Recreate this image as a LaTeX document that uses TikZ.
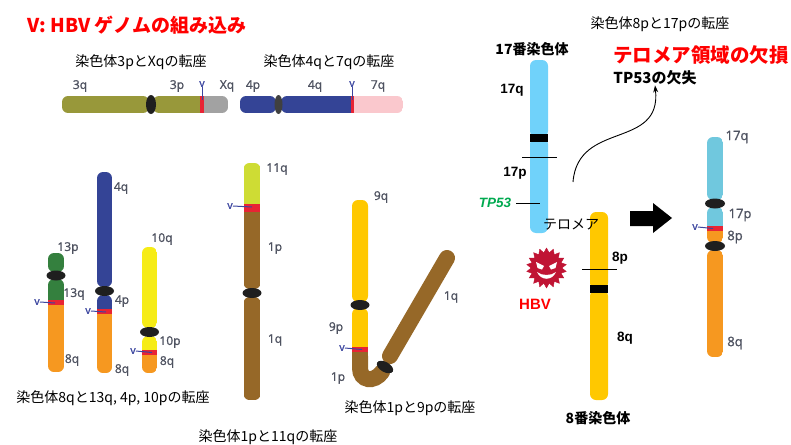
\documentclass[tikz,border=0pt]{standalone}
\usepackage{fontspec}
\setmainfont{Noto Sans CJK JP}
\newfontfamily\arial{Liberation Sans}
\newfontfamily\seg{Open Sans}[FakeBold=1.2]
\usetikzlibrary{shapes.geometric,arrows.meta}
\definecolor{olivearm}{RGB}{152,152,58}
\definecolor{xgray}{RGB}{162,162,162}
\definecolor{navyarm}{RGB}{52,68,150}
\definecolor{pinkarm}{RGB}{250,200,205}
\definecolor{greenarm}{RGB}{52,128,62}
\definecolor{orangearm}{RGB}{246,152,32}
\definecolor{lemonarm}{RGB}{246,236,22}
\definecolor{limearm}{RGB}{206,220,52}
\definecolor{brownarm}{RGB}{150,104,40}
\definecolor{goldarm}{RGB}{255,200,0}
\definecolor{skyarm}{RGB}{112,210,250}
\definecolor{tealarm}{RGB}{112,200,222}
\definecolor{bandred}{RGB}{232,36,52}
\definecolor{virus}{RGB}{192,20,52}
\definecolor{labgray}{RGB}{78,82,96}
\definecolor{vblue}{RGB}{60,70,160}
\definecolor{tpgreen}{RGB}{0,170,80}
\begin{document}
\begin{tikzpicture}[x=1pt, y=-1pt,
  arm/.style={rounded corners=6},
  cen/.style={ellipse, fill=black!88, inner sep=0, minimum width=19, minimum height=10},
  hcen/.style={cen, minimum width=10, minimum height=19},
  lab/.style={inner sep=0, text=labgray, font=\seg\fontsize{12}{12}\selectfont},
  vlab/.style={inner sep=0, text=vblue, font=\seg\fontsize{10.5}{10}\selectfont},
  vline/.style={draw=vblue, line width=1},
  boldlab/.style={inner sep=0, font=\arial\bfseries\fontsize{13.5}{14}\selectfont},
  caption/.style={inner sep=0, font=\fontsize{14}{14}\selectfont},
  headline/.style={inner sep=0, font=\bfseries\fontsize{14}{14}\selectfont},
  cut/.style={draw, line width=1}
  ]
  \fill[white] (0,0) rectangle (791,444);
  \useasboundingbox (0,0) rectangle (791,444);

  \node[inner sep=0, text=red, font=\bfseries\fontsize{19}{19}\selectfont] (title) at (137,25) {V: HBV ゲノムの組み込み};

  % 3p / Xq
  \node[caption] (capA) at (141,62) {染色体3pとXqの転座};
  \begin{scope}
    \clip[arm] (62,96) rectangle (149,113) (153,96) rectangle (228,113);
    \fill[olivearm] (62,96) rectangle (200,113);
    \fill[bandred] (200,96) rectangle (204,113);
    \fill[xgray] (204,96) rectangle (228,113);
  \end{scope}
  \node[hcen] (cenA) at (151,104.5) {};
  \node[lab] (a3q) at (80,86) {3q};
  \node[lab] (a3p) at (177,86) {3p};
  \node[lab] (aXq) at (227,86) {Xq};
  \node[vlab] (vA) at (202,84) {v};
  \coordinate (vA-end) at (202,100);
  \draw[vline] (vA.south) -- (vA-end);

  % 4q / 7q
  \node[caption] (capB) at (329,62) {染色体4qと7qの転座};
  \begin{scope}
    \clip[arm] (240,96) rectangle (276,113) (281,96) rectangle (403,113);
    \fill[navyarm] (240,96) rectangle (351,113);
    \fill[bandred] (351,96) rectangle (354,113);
    \fill[pinkarm] (354,96) rectangle (403,113);
  \end{scope}
  \node[hcen, fill=black!75, minimum width=8] (cenB) at (278.5,104.5) {};
  \node[lab] (b4p) at (253,86) {4p};
  \node[lab] (b4q) at (315,86) {4q};
  \node[lab] (b7q) at (378,86) {7q};
  \node[vlab] (vB) at (352,84) {v};
  \coordinate (vB-end) at (352,100);
  \draw[vline] (vB.south) -- (vB-end);

  % 8q with 13q, 4p, 10p
  \begin{scope}
    \clip[arm] (48,253) rectangle (64,272) (48,279) rectangle (64,372);
    \fill[greenarm] (48,253) rectangle (64,300);
    \fill[bandred] (48,300) rectangle (64,305);
    \fill[orangearm] (48,305) rectangle (64,372);
  \end{scope}
  \node[cen] (cenC) at (56,275.5) {};
  \node[lab] (c13p) at (68,248) {13p};
  \node[lab] (c13q) at (74,294) {13q};
  \node[lab] (c8q) at (72,360) {8q};
  \node[vlab] (vC) at (37,302) {v};
  \coordinate (vC-end) at (55,303);
  \draw[vline] (vC.east) -- (vC-end);

  \begin{scope}
    \clip[arm] (97,172) rectangle (112,287) (97,295) rectangle (112,373);
    \fill[navyarm] (97,172) rectangle (112,309);
    \fill[bandred] (97,309) rectangle (112,314);
    \fill[orangearm] (97,314) rectangle (112,373);
  \end{scope}
  \node[cen] (cenD) at (104.5,291) {};
  \node[lab] (d4q) at (121,188) {4q};
  \node[lab] (d4p) at (122,301) {4p};
  \node[lab] (d8q) at (122,370) {8q};
  \node[vlab] (vD) at (88,311) {v};
  \coordinate (vD-end) at (106,312);
  \draw[vline] (vD.east) -- (vD-end);

  \begin{scope}
    \clip[arm] (142,247) rectangle (157,328) (142,336) rectangle (157,373);
    \fill[lemonarm] (142,247) rectangle (157,350);
    \fill[bandred] (142,350) rectangle (157,355);
    \fill[orangearm] (142,355) rectangle (157,373);
  \end{scope}
  \node[cen] (cenE) at (149.5,332) {};
  \node[lab] (e10q) at (162,239) {10q};
  \node[lab] (e10p) at (170,342) {10p};
  \node[lab] (e8q) at (167,362) {8q};
  \node[vlab] (vE) at (133,351) {v};
  \coordinate (vE-end) at (152,352.5);
  \draw[vline] (vE.east) -- (vE-end);
  \node[caption] (capC) at (113,398) {染色体8qと13q, 4p, 10pの転座};

  % 1p / 11q
  \begin{scope}
    \clip[arm] (243.5,163) rectangle (260.5,289) (243.5,297) rectangle (260.5,400);
    \fill[limearm] (243.5,163) rectangle (260.5,204);
    \fill[bandred] (243.5,204) rectangle (260.5,212);
    \fill[brownarm] (243.5,212) rectangle (260.5,400);
  \end{scope}
  \node[cen] (cenF) at (252,293) {};
  \node[lab] (f11q) at (277,169) {11q};
  \node[lab] (f1p) at (275,248) {1p};
  \node[lab] (f1q) at (275,340) {1q};
  \node[vlab] (vF) at (230,206) {v};
  \coordinate (vF-end) at (252,207);
  \draw[vline] (vF.east) -- (vF-end);
  \node[caption] (capF) at (268,437) {染色体1pと11qの転座};

  % 1p / 9p
  \draw[brownarm, line width=16, line cap=round] (360,356) -- (360,368) .. controls (360,381) and (374,383) .. (382,372);
  \draw[brownarm, line width=16, line cap=round] (390,356) -- (447,258);
  \fill[goldarm, arm] (352,200) rectangle (368,302);
  \begin{scope}
    \clip[arm] (352,308) rectangle (368,372);
    \fill[goldarm] (352,308) rectangle (368,347);
    \fill[bandred] (352,347) rectangle (368,352);
    \fill[brownarm] (352,352) rectangle (368,372);
  \end{scope}
  \node[cen] (cenG) at (360,305) {};
  \node[cen, minimum width=18, rotate=-30] (cenH) at (385,367) {};
  \node[lab] (g9q) at (381,197) {9q};
  \node[lab] (g9p) at (336,328) {9p};
  \node[lab] (g1p) at (338,378) {1p};
  \node[lab] (g1q) at (451,297) {1q};
  \node[vlab] (vG) at (342,348) {v};
  \coordinate (vG-end) at (362,349.5);
  \draw[vline] (vG.east) -- (vG-end);
  \node[caption] (capG) at (410,408) {染色体1pと9pの転座};

  % 8p / 17p
  \node[caption] (capR) at (660,24) {染色体8pと17pの転座};
  \node[headline] (chr17) at (532,49) {17番染色体};
  \fill[skyarm, arm] (530,60) rectangle (548,137);
  \fill[skyarm, arm] (530,138) rectangle (548,233);
  \fill[black] (530,133.5) rectangle (548,141.5);
  \draw[cut] (522,157) -- (557,157);
  \node[boldlab] (r17q) at (512,90) {17q};
  \node[boldlab] (r17p) at (515,173) {17p};
  \node[boldlab, text=tpgreen, font=\arial\bfseries\itshape\fontsize{13.5}{14}\selectfont] (tp53) at (495,203) {TP53};
  \coordinate (tp53-end) at (540,203);
  \draw (tp53.east) ++(5,0) -- (tp53-end);

  \node[inner sep=0, text=red, font=\bfseries\fontsize{19.5}{20}\selectfont] (loss) at (701,55) {テロメア領域の欠損};
  \node[inner sep=0, font=\bfseries\fontsize{15}{15}\selectfont] (tploss) at (655,78) {TP53の欠失};
  \coordinate (bend) at (573,182);
  \draw[-{Stealth[length=7pt,width=5pt]}, line width=0.9] (bend) .. controls (578,120) and (662,150) .. (tploss.south);

  \fill[goldarm, arm] (590,212) rectangle (608,289);
  \fill[goldarm, arm] (590,290) rectangle (608,400);
  \fill[black] (590,285) rectangle (608,293);
  \draw[cut] (582,269) -- (617,269);
  \node[boldlab] (r8p) at (620,258) {8p};
  \node[boldlab] (r8q) at (625,338) {8q};
  \node[headline] (chr8) at (598,418) {8番染色体};
  \node[inner sep=0, font=\fontsize{14}{14}\selectfont] (telo) at (571,225) {テロメア};

  \node[star, star points=18, star point ratio=1.3, fill=virus, draw=virus, inner sep=0, minimum size=40] (hbv) at (546.5,268) {};
  \fill[white] (536,262) -- (544,266) -- (542,269.5) -- (537.5,268) -- cycle;
  \fill[white] (557,262) -- (549,266) -- (551,269.5) -- (555.5,268) -- cycle;
  \fill[white] (537,272) .. controls (541,281) and (552,281) .. (556,272) .. controls (551,276) and (542,276) .. cycle;
  \node[inner sep=0, text=red, font=\arial\bfseries\fontsize{15}{15}\selectfont] (hbvlab) at (535,304) {HBV};

  \fill[black] (630,211) -- (653,211) -- (653,203) -- (672,218) -- (653,233) -- (653,226) -- (630,226) -- cycle;

  \begin{scope}
    \clip[arm] (707,137) rectangle (723,200) (707,207) rectangle (723,243) (707,250) rectangle (723,357);
    \fill[tealarm] (707,137) rectangle (723,226);
    \fill[bandred] (707,226) rectangle (723,231);
    \fill[orangearm] (707,231) rectangle (723,357);
  \end{scope}
  \node[cen, minimum width=20] (cenR1) at (715,203.5) {};
  \node[cen, minimum width=20] (cenR2) at (715,246) {};
  \node[lab, font=\seg\fontsize{13}{13}\selectfont] (s17q) at (737,137) {17q};
  \node[lab, font=\seg\fontsize{13}{13}\selectfont] (s17p) at (740,215) {17p};
  \node[lab, font=\seg\fontsize{13}{13}\selectfont] (s8p) at (735,237) {8p};
  \node[lab, font=\seg\fontsize{13}{13}\selectfont] (s8q) at (735,343) {8q};
  \node[vlab] (vS) at (695,227) {v};
  \coordinate (vS-end) at (713,228.5);
  \draw[vline] (vS.east) -- (vS-end);
\end{tikzpicture}
\end{document}
